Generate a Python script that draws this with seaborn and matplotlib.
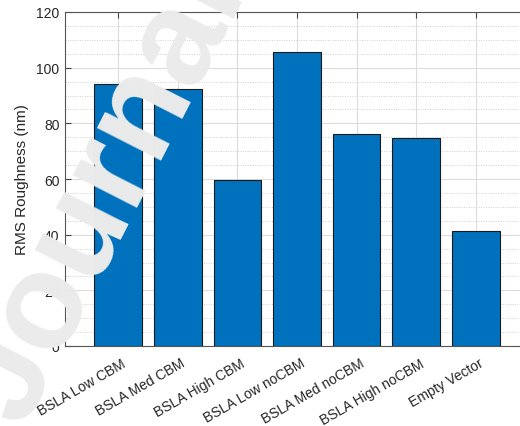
import matplotlib
matplotlib.use("Agg")
import matplotlib.pyplot as plt
from matplotlib.ticker import MultipleLocator
from matplotlib.transforms import ScaledTranslation
import seaborn as sns
import pandas as pd

categories = ["BSLA Low CBM", "BSLA Med CBM", "BSLA High CBM", "BSLA Low noCBM",
              "BSLA Med noCBM", "BSLA High noCBM", "Empty Vector"]
rms_roughness = [94.1, 92.3, 59.6, 105.5, 76.1, 74.9, 41.4]
y_ticks = [0, 20, 40, 60, 80, 100, 120]

df = pd.DataFrame({"sample": categories, "rms": rms_roughness})

sns.set_theme(style="white")
plt.rcParams["font.family"] = ["Liberation Sans", "DejaVu Sans"]

W, H = 520, 427
fig = plt.figure(figsize=(W / 100, H / 100), dpi=100)
left, right, top, bottom = 65, 529, 13, 347
ax = fig.add_axes([left / W, 1 - bottom / H, (right - left) / W, (bottom - top) / H])

sns.barplot(data=df, x="sample", y="rms", ax=ax, color="#0072BD", saturation=1,
            width=0.8, edgecolor="#1a1a1a", linewidth=0.8, zorder=3)

ax.set_xlim(-0.89, 6.89)
ax.set_ylim(0, 120)
ax.set_yticks(y_ticks)
ax.yaxis.set_minor_locator(MultipleLocator(5))
ax.set_axisbelow(True)
ax.grid(which="major", axis="both", color="#dcdcdc", linewidth=0.8, linestyle="-", zorder=0)
ax.grid(which="minor", axis="y", color="#cfcfcf", linewidth=0.7, linestyle=(0, (1, 1.5)), zorder=0)

for s in ax.spines.values():
    s.set_color("#555555")
    s.set_linewidth(0.8)

ax.tick_params(axis="both", which="major", direction="in", length=4, width=0.8,
               color="#444444", labelcolor="#262626", labelsize=10,
               top=True, right=True, bottom=True, left=True)
ax.tick_params(axis="y", which="minor", left=False, right=False)
ax.tick_params(axis="y", pad=4)
ax.tick_params(axis="x", pad=7)
shift = ScaledTranslation(3 / 100, 0, fig.dpi_scale_trans)
for lab in ax.get_xticklabels():
    lab.set_rotation(30)
    lab.set_ha("right")
    lab.set_va("top")
    lab.set_rotation_mode("anchor")
    lab.set_transform(lab.get_transform() + shift)

ax.set_xlabel("")
ax.set_ylabel("RMS Roughness (nm)", fontsize=11, color="#262626", labelpad=5)

# "Journal" watermark overlay
wm_color = "#ebebeb"
fig.text(104 / W, 1 - 194 / H, "Journal", fontsize=98, fontweight="bold", rotation=63,
         ha="center", va="center", rotation_mode="anchor", color=wm_color,
         family=["Liberation Sans", "DejaVu Sans"], zorder=10)

fig.savefig("out.png", dpi=100)
